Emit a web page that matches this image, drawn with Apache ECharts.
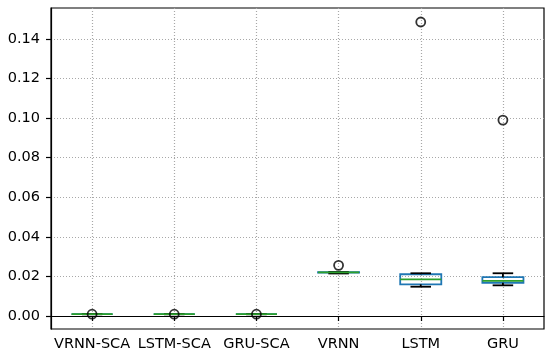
<!DOCTYPE html>
<html>
<head>
<meta charset="utf-8">
<script src="https://cdn.jsdelivr.net/npm/echarts@6/dist/echarts.min.js"></script>
<style>html,body{margin:0;padding:0;background:#fff}#c{width:550px;height:360px}</style>
</head>
<body>
<div id="c"></div>
<script>
const categories = ['VRNN-SCA', 'LSTM-SCA', 'GRU-SCA', 'VRNN', 'LSTM', 'GRU'];
// [min whisker, Q1, median, Q3, max whisker]
const boxStats = [
  [0.0009, 0.0009, 0.0009, 0.0009, 0.0009],
  [0.0009, 0.0009, 0.0009, 0.0009, 0.0009],
  [0.0009, 0.0009, 0.0009, 0.0009, 0.0009],
  [0.0215, 0.0219, 0.0220, 0.0221, 0.0222],
  [0.0148, 0.0160, 0.0185, 0.0211, 0.0216],
  [0.0155, 0.0168, 0.0178, 0.0196, 0.0216]
];
// outliers: [category index, value]
const outliers = [
  [0, 0.0009], [1, 0.0009], [2, 0.0009],
  [3, 0.0256], [4, 0.1486], [5, 0.0990]
];
const yTicks = [0, 0.02, 0.04, 0.06, 0.08, 0.10, 0.12, 0.14];

const chart = echarts.init(document.getElementById('c'));
const font = 'DejaVu Sans';
chart.setOption({
  animation: false,
  grid: { left: 51, right: 6, top: 8, bottom: 31, show: true, borderColor: '#000', borderWidth: 1.2, backgroundColor: 'transparent' },
  xAxis: {
    type: 'category',
    data: categories,
    boundaryGap: true,
    axisLine: { show: true, lineStyle: { color: '#000', width: 1.2 } },
    axisTick: { show: true, interval: 0, alignWithLabel: true, length: 5, lineStyle: { color: '#000', width: 1.2 } },
    axisLabel: { interval: 0, color: '#000', fontFamily: font, fontSize: 14.5, margin: 8 },
    splitLine: { show: true, interval: 0, alignWithLabel: true, lineStyle: { color: '#a8a8a8', type: [1, 2], width: 1.2 } }
  },
  yAxis: {
    type: 'value',
    min: -0.00657,
    max: 0.15567,
    axisLine: { show: true, lineStyle: { color: '#000', width: 1.2 } },
    axisTick: { show: true, length: 5, customValues: yTicks, lineStyle: { color: '#000', width: 1.2 } },
    axisLabel: { color: '#000', fontFamily: font, fontSize: 14.5, margin: 11, customValues: yTicks,
      formatter: v => v.toFixed(2) },
    splitLine: { show: true, customValues: yTicks, lineStyle: { color: '#a8a8a8', type: [1, 2], width: 1.2 } }
  },
  series: [
    {
      type: 'custom',
      data: boxStats.map((s, i) => [i].concat(s)),
      encode: { x: 0, y: [1, 2, 3, 4, 5] },
      renderItem: function (params, api) {
        const x = api.value(0);
        const band = api.size([1, 0])[0];
        const bw = band * 0.5;
        const cw = bw * 0.5;
        const pMin = api.coord([x, api.value(1)]);
        const pQ1 = api.coord([x, api.value(2)]);
        const pMed = api.coord([x, api.value(3)]);
        const pQ3 = api.coord([x, api.value(4)]);
        const pMax = api.coord([x, api.value(5)]);
        const cx = pMed[0];
        const blk = { stroke: '#000', lineWidth: 1.8, fill: null };
        return {
          type: 'group',
          children: [
            { type: 'rect', shape: { x: cx - bw / 2, y: pQ3[1], width: bw, height: pQ1[1] - pQ3[1] },
              style: { stroke: '#1f77b4', lineWidth: 1.8, fill: null } },
            { type: 'line', shape: { x1: cx, y1: pQ3[1], x2: cx, y2: pMax[1] }, style: blk },
            { type: 'line', shape: { x1: cx, y1: pQ1[1], x2: cx, y2: pMin[1] }, style: blk },
            { type: 'line', shape: { x1: cx - cw / 2, y1: pMax[1], x2: cx + cw / 2, y2: pMax[1] }, style: blk },
            { type: 'line', shape: { x1: cx - cw / 2, y1: pMin[1], x2: cx + cw / 2, y2: pMin[1] }, style: blk },
            { type: 'line', shape: { x1: cx - bw / 2, y1: pMed[1], x2: cx + bw / 2, y2: pMed[1] },
              style: { stroke: '#2ca02c', lineWidth: 1.8 } }
          ]
        };
      },
      z: 3
    },
    {
      type: 'scatter',
      data: outliers,
      symbol: 'circle',
      symbolSize: 9,
      itemStyle: { color: 'rgba(0,0,0,0)', borderColor: '#000', borderWidth: 1.8 },
      z: 5
    }
  ]
});
</script>
</body>
</html>
